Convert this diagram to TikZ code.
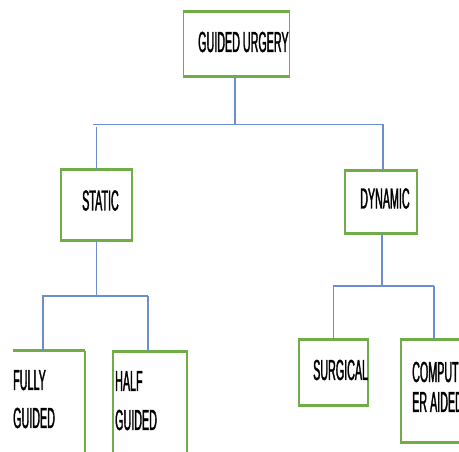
\documentclass[tikz,border=0pt]{standalone}
\usepackage{fontspec}
\newfontfamily\condfont[FakeStretch=0.37,FakeBold=1.2]{Liberation Sans}
\definecolor{boxgreen}{RGB}{112,173,71}
\definecolor{lineblue}{RGB}{108,142,206}
\begin{document}
\begin{tikzpicture}[x=1pt,y=-1pt,
  box/.style={draw=boxgreen,line width=1.5pt,inner sep=0pt,minimum width=#1},
  edge/.style={draw=boxgreen,line width=3pt},
  conn/.style={draw=lineblue,line width=1.4pt},
  lbl/.style={anchor=base west,inner sep=0pt,font=\condfont\fontsize{29}{34}\selectfont}]
\clip (0,0) rectangle (459,452);
\useasboundingbox (0,0) rectangle (459,452);
% boxes
\node[box=106pt,minimum height=64pt] (gu) at (236.5,44) {};
\node[box=71pt,minimum height=70pt] (st) at (96.5,205) {};
\node[box=72pt,minimum height=62pt] (dy) at (381,202) {};
\node[draw=none,inner sep=0pt,minimum width=72pt,minimum height=118pt] (fg) at (49,410) {};
\node[box=74pt,minimum height=118pt] (hg) at (150,411) {};
\node[box=69pt,minimum height=65pt] (sg) at (333.5,372.5) {};
\node[box=66pt,minimum height=102pt] (ca) at (434,391) {};
\foreach \n in {gu,st,dy,hg,sg,ca}{
  \draw[edge] (\n.north west) -- (\n.north east);
  \draw[edge] (\n.south west) -- (\n.south east);
}
\draw[edge] (fg.north west) -- (fg.north east);
\draw[boxgreen,line width=1.5pt] (fg.north east) -- (fg.south east);
% labels
\node[lbl] (tgu) at (198,52) {GUIDED URGERY};
\node[lbl] (tst) at (82,210.5) {STATIC};
\node[lbl] (tdy) at (360,208.5) {DYNAMIC};
\node[lbl] (tfg1) at (13,390) {FULLY};
\node[lbl] (tfg2) at (13,428) {GUIDED};
\node[lbl] (thg1) at (115,391) {HALF};
\node[lbl] (thg2) at (115,430) {GUIDED};
\node[lbl] (tsg) at (313,380) {SURGICAL};
\node[lbl] (tca1) at (412,382) {COMPUT};
\node[lbl] (tca2) at (412,412) {ER AIDED};
% connectors level 1
\coordinate (b1) at (235,124.5);
\coordinate (b1L) at (93,124.5);
\coordinate (b1R) at (383,124.5);
\draw[conn] (b1 |- gu.south) -- (b1);
\draw[conn] (b1L) -- (b1R);
\draw[conn] (st.north |- b1) ++(0,3) -- (st.north);
\draw[conn] (dy.north -| b1R) ++(0,-46) -- (dy.north -| b1R);
% connectors level 2 (static)
\coordinate (b2) at (96.5,296);
\coordinate (b2L) at (42,296);
\coordinate (b2R) at (148,296);
\coordinate (f1) at (43,296);
\draw[conn] (st.south) -- (b2);
\draw[conn] (b2L) -- (b2R);
\draw[conn] (f1) -- (f1 |- fg.north);
\draw[conn] (b2R) -- (b2R |- hg.north);
% connectors level 2 (dynamic)
\coordinate (b3) at (382,286);
\coordinate (b3L) at (333,286);
\coordinate (b3R) at (434,286);
\draw[conn] (b3 |- dy.south) -- (b3);
\draw[conn] (b3L) -- (b3R);
\draw[conn] (b3L -| sg.north) -- (sg.north);
\draw[conn] (b3R) -- (ca.north);
\end{tikzpicture}
\end{document}
